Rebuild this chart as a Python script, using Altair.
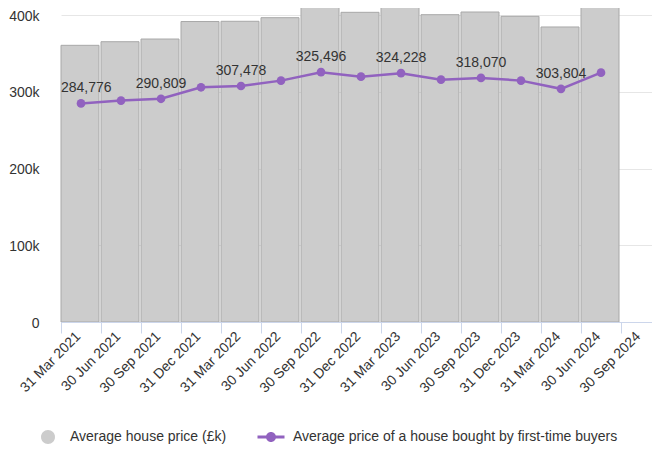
import altair as alt
import pandas as pd

tick_labels = ['31 Mar 2021', '30 Jun 2021', '30 Sep 2021', '31 Dec 2021',
               '31 Mar 2022', '30 Jun 2022', '30 Sep 2022', '31 Dec 2022',
               '31 Mar 2023', '30 Jun 2023', '30 Sep 2023', '31 Dec 2023',
               '31 Mar 2024', '30 Jun 2024', '30 Sep 2024']
quarters = tick_labels[:14]
avg_price = [360500, 365200, 368700, 391500, 391800, 396500, 412600,
             403500, 410700, 400400, 403900, 398300, 384400, 410800]
ftb_price = [284776, 288500, 290809, 305800, 307478, 314500, 325496,
             319700, 324228, 315800, 318070, 314500, 303804, 324900]
labelled = [True, False] * 7
y_ticks = [0, 100000, 200000, 300000, 400000]

S_AVG = 'Average house price (£k)'
S_FTB = 'Average price of a house bought by first-time buyers'

FONT = 'Liberation Sans'
TEXT = '#333333'
PURPLE = '#9162bf'

df = pd.DataFrame({
    'idx': list(range(len(quarters))),
    'quarter': quarters,
    'avg': avg_price,
    'ftb': ftb_price,
    'lab': labelled,
    'series': [S_AVG] * len(quarters),
})

label_js = '[' + ','.join("'" + s + "'" for s in tick_labels) + ']'

x_scale = alt.Scale(domain=[0, 14.775], nice=False, zero=False, padding=0)
y_scale = alt.Scale(domain=[0, 409121], nice=False, padding=0)

x_axis = alt.Axis(values=list(range(len(tick_labels))),
                  labelExpr=label_js + '[datum.value]',
                  grid=False, domainColor='#ccd6eb', tickColor='#ccd6eb',
                  tickSize=11, labelAngle=-45, labelAlign='right',
                  labelBaseline='middle', labelOffset=17, labelPadding=1,
                  labelFont=FONT, labelFontSize=14, labelColor=TEXT,
                  labelFlush=False, title=None, zindex=1, labelOverlap=False)
y_axis = alt.Axis(values=y_ticks,
                  labelExpr="datum.value == 0 ? '0' : (datum.value / 1000) + 'k'",
                  domain=False, ticks=False, gridColor='#e6e6e6',
                  labelPadding=22, labelFont=FONT, labelFontSize=14,
                  labelColor=TEXT, labelOffset=1, labelFlush=False,
                  labelBaseline='middle', title=None)

circle_path = 'M0.7,0 A0.7,0.7 0 1,1 -0.7,0 A0.7,0.7 0 1,1 0.7,0 Z'
line_path = ('M-1.35,-0.15 H1.35 V0.15 H-1.35 Z '
             'M0.5,0 A0.5,0.5 0 1,1 -0.5,0 A0.5,0.5 0 1,1 0.5,0 Z')

legend = alt.Legend(title=None, orient='none', legendX=-23, legendY=419,
                    direction='horizontal', symbolSize=400,
                    labelFont=FONT, labelFontSize=14, labelColor=TEXT,
                    labelOffset=12, labelLimit=0, columnPadding=30, padding=0,
                    symbolStrokeWidth=0, symbolOpacity=1,
                    symbolType={'expr': "datum.value === '" + S_AVG + "' ? '"
                                + circle_path + "' : '" + line_path + "'"})

base = alt.Chart(df).transform_calculate(
    idx_end='datum.idx + 1', mid='datum.idx + 0.5')

bars = base.mark_bar(stroke='#a8a8a8', strokeWidth=1, x2Offset=-2,
                     opacity=1, orient='vertical').encode(
    x=alt.X('idx:Q', scale=x_scale, axis=x_axis),
    x2='idx_end:Q',
    y=alt.Y('avg:Q', scale=y_scale, axis=y_axis),
    y2=alt.datum(0),
    color=alt.Color('series:N',
                    scale=alt.Scale(domain=[S_AVG, S_FTB],
                                    range=['#cccccc', PURPLE]),
                    legend=legend),
)

line = base.mark_line(color=PURPLE, strokeWidth=2.5).encode(
    x=alt.X('mid:Q', scale=x_scale),
    y=alt.Y('ftb:Q', scale=y_scale),
)
points = base.mark_circle(color=PURPLE, size=75, opacity=1).encode(
    x=alt.X('mid:Q', scale=x_scale),
    y=alt.Y('ftb:Q', scale=y_scale),
)

labels_mid = base.transform_filter('datum.lab && datum.idx > 0').mark_text(
    font=FONT, fontSize=14, color=TEXT, baseline='middle', align='center',
    dy=-15).encode(
    x=alt.X('mid:Q', scale=x_scale),
    y=alt.Y('ftb:Q', scale=y_scale),
    text=alt.Text('ftb:Q', format=','),
)
labels_first = base.transform_filter('datum.lab && datum.idx == 0').mark_text(
    font=FONT, fontSize=14, color=TEXT, baseline='middle', align='left',
    dy=-15).encode(
    x=alt.X('idx:Q', scale=x_scale),
    y=alt.Y('ftb:Q', scale=y_scale),
    text=alt.Text('ftb:Q', format=','),
)

chart = alt.layer(bars, line, points, labels_mid, labels_first).properties(
    width=591, height=314,
    autosize=alt.AutoSizeParams(type='none'),
    padding={'left': 53, 'top': 0, 'right': 0, 'bottom': 122},
).configure_view(stroke=None)

chart.save('out.html', embed_options={'renderer': 'svg', 'actions': False})
